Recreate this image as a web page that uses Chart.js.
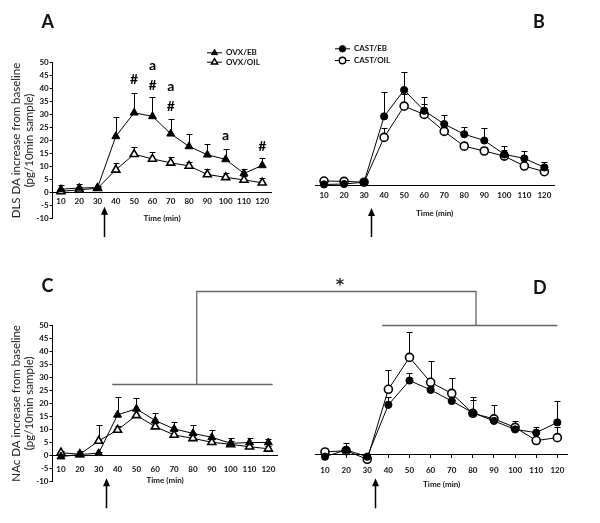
<!DOCTYPE html>
<html><head><meta charset="utf-8">
<script src="https://cdn.jsdelivr.net/npm/chart.js@4/dist/chart.umd.min.js"></script>
<style>
html,body{margin:0;padding:0;background:#fff;}
#wrap{position:relative;width:600px;height:523px;overflow:hidden;background:#fff;}
#wrap canvas{position:absolute;left:0;top:0;}
</style></head><body>
<div id="wrap">
<canvas id="cA" width="600" height="523" style="width:600px;height:523px"></canvas>
<canvas id="cB" width="600" height="523" style="width:600px;height:523px"></canvas>
<canvas id="cC" width="600" height="523" style="width:600px;height:523px"></canvas>
<canvas id="cD" width="600" height="523" style="width:600px;height:523px"></canvas>
</div>
<script>
// ---------- data ----------
const timeMin = [10,20,30,40,50,60,70,80,90,100,110,120];
const xTickValues = [10,20,30,40,50,60,70,80,90,100,110,120];
const yTickValues = [-10,-5,0,5,10,15,20,25,30,35,40,45,50];

// A: DLS, OVX
const dlsOvxEB     = [1.2,1.7,1.8,21.6,30.7,29.3,22.6,17.7,14.5,12.7,7.3,10.4];
const dlsOvxEBErr  = [1.8,1.6,0.5,7.3,7.7,7.5,5.8,4.8,4.1,4.1,1.8,3.0];
const dlsOvxOIL    = [0.4,1.0,1.6,8.7,14.7,12.9,11.4,10.2,6.9,5.8,4.8,3.7];
const dlsOvxOILErr = [0.6,1.0,0.4,2.7,2.8,2.7,2.4,1.6,2.0,1.8,1.4,2.0];
// B: DLS, CAST
const dlsCastEB     = [0.2,0.35,1.0,24.2,33.5,26.2,21.5,17.9,15.7,10.8,9.4,6.2];
const dlsCastEBErr  = [0.3,0.3,0.3,8.7,6.5,4.7,3.2,2.5,4.3,3.1,2.7,2.0];
const dlsCastOIL    = [1.4,1.3,1.0,16.8,27.8,24.9,18.9,13.7,12.0,10.2,6.7,4.7];
const dlsCastOILErr = [0.7,0.6,0.2,3.2,4.4,3.7,1.6,1.6,1.3,2.1,0.9,1.2];
// C: NAc, OVX
const nacOvxEB     = [-0.4,0.4,0.9,15.6,17.9,13.4,10.2,8.5,7.0,4.7,5.0,5.0];
const nacOvxEBErr  = [0.3,0.5,0.3,7.0,4.3,2.8,2.8,3.1,2.8,2.2,1.8,1.5];
const nacOvxOIL    = [1.1,0.5,5.6,9.8,15.4,11.1,7.9,6.6,5.1,4.3,3.4,2.6];
const nacOvxOILErr = [0.5,1.3,6.3,1.6,2.1,1.4,1.6,1.4,1.2,1.2,1.1,1.1];
// D: NAc, CAST
const nacCastEB     = [-0.8,1.5,-0.8,16.9,25.2,22.0,18.2,14.2,11.4,8.5,7.4,10.9];
const nacCastEBErr  = [0.3,2.3,0.3,2.8,2.5,1.5,1.5,4.4,1.5,1.2,1.8,7.4];
const nacCastOIL    = [0.8,1.25,-1.7,22.2,33.1,24.6,20.8,14.0,12.1,9.2,4.7,5.7];
const nacCastOILErr = [0.4,0.5,1.5,6.6,8.8,7.1,5.2,5.7,4.8,2.3,0.8,3.5];

// significance marks in panel A
const annotX    = [50,60,60,70,70,100,120];
const annotY    = [41.6,47.2,39.6,39.0,31.3,20.2,15.9];
const annotText = ['#','a','#','a','#','a','#'];

const injectionTime = 33.7;
const legendA = ['OVX/EB','OVX/OIL'];
const legendB = ['CAST/EB','CAST/OIL'];

// ---------- helpers ----------
const FONT = 'Lato, "Open Sans", sans-serif';
function series(label, vals, errs, style, filled, r) {
  return {
    label, err: errs,
    data: timeMin.map((t,i)=>({x:t, y:vals[i]})),
    borderColor:'#000', borderWidth:1, tension:0, fill:false, clip:false,
    pointStyle: style, pointRadius: r, pointHoverRadius: r,
    pointBackgroundColor: filled ? '#000' : '#fff',
    pointBorderColor:'#000', pointBorderWidth: filled ? 1 : 1.6
  };
}
function marker(ctx, style, filled, x, y, r) {
  ctx.save();
  ctx.fillStyle = filled ? '#000' : '#fff';
  ctx.strokeStyle = '#000'; ctx.lineWidth = filled ? 1 : 1.4;
  ctx.beginPath();
  if (style === 'triangle') {
    for (let k=0;k<3;k++){const a=k*2*Math.PI/3; const px=x+Math.sin(a)*r, py=y-Math.cos(a)*r; k?ctx.lineTo(px,py):ctx.moveTo(px,py);}
    ctx.closePath();
  } else { ctx.arc(x,y,r,0,Math.PI*2); }
  ctx.fill(); ctx.stroke(); ctx.restore();
}

const errorBarPlugin = {
  id:'errorBars',
  beforeDatasetsDraw(chart){
    const ctx = chart.ctx, ys = chart.scales.y;
    chart.data.datasets.forEach((ds,i)=>{
      if (!ds.err) return;
      const meta = chart.getDatasetMeta(i);
      ctx.save(); ctx.strokeStyle='#000'; ctx.lineWidth=1;
      meta.data.forEach((pt,j)=>{
        const top = ys.getPixelForValue(ds.data[j].y + ds.err[j]);
        const x = Math.round(pt.x)+0.5, t = Math.round(top)+0.5;
        ctx.beginPath(); ctx.moveTo(x, pt.y); ctx.lineTo(x, t);
        ctx.moveTo(x-3, t); ctx.lineTo(x+3, t); ctx.stroke();
      });
      ctx.restore();
    });
  }
};

function decoPlugin(p) {
  return {
    id:'deco'+p.letter,
    afterDraw(chart){
      const ctx = chart.ctx, xs = chart.scales.x, ys = chart.scales.y;
      ctx.save();
      // panel letter
      ctx.fillStyle='#111'; ctx.font='bold 18px '+FONT; ctx.textAlign='left'; ctx.textBaseline='alphabetic';
      ctx.fillText(p.letter, p.letterX, p.letterY);
      // injection arrow
      const ax = Math.round(xs.getPixelForValue(injectionTime))+0.5;
      const y0 = ys.getPixelForValue(0);
      const tip = y0 + p.arrow[0], tail = y0 + p.arrow[1];
      ctx.strokeStyle='#000'; ctx.lineWidth=1.5;
      ctx.beginPath(); ctx.moveTo(ax, tail); ctx.lineTo(ax, tip+6); ctx.stroke();
      ctx.fillStyle='#000'; ctx.beginPath(); ctx.moveTo(ax, tip); ctx.lineTo(ax-3.5, tip+8); ctx.lineTo(ax+3.5, tip+8); ctx.closePath(); ctx.fill();
      // legend
      if (p.legend) {
        p.legend.forEach((txt,k)=>{
          const ds = chart.data.datasets[k];
          const lx = p.legendX, ly = p.legendY + k*p.legendDy;
          ctx.strokeStyle='#000'; ctx.lineWidth=1;
          ctx.beginPath(); ctx.moveTo(lx, ly+0.5); ctx.lineTo(lx+15, ly+0.5); ctx.stroke();
          marker(ctx, ds.pointStyle, ds.pointBackgroundColor==='#000', lx+7.5, ly+0.5, p.legendR);
          ctx.fillStyle='#111'; ctx.font='bold 8px '+FONT; ctx.textAlign='left'; ctx.textBaseline='middle';
          ctx.fillText(txt, lx+19, ly+0.5);
        });
      }
      // significance annotations
      if (p.annot) {
        ctx.fillStyle='#000'; ctx.font='bold 14px '+FONT; ctx.textAlign='center'; ctx.textBaseline='alphabetic';
        annotX.forEach((v,i)=> ctx.fillText(annotText[i], xs.getPixelForValue(v), ys.getPixelForValue(annotY[i])));
      }
      if (p.extra) p.extra(chart);
      ctx.restore();
    }
  };
}

function panel(id, p) {
  const H = p.titleOff + 4.8;
  const showY = !!p.yTitle;
  const tickFont = {family:FONT, weight:'bold', size:8, lineHeight:1.2};
  return new Chart(document.getElementById(id), {
    type:'line',
    data:{datasets:p.datasets},
    options:{
      responsive:false, animation:false, devicePixelRatio:1, events:[],
      layout:{padding:{top:p.top, left: showY?0:p.left, right:600-p.right, bottom:523-p.bottom}},
      plugins:{legend:{display:false}, tooltip:{enabled:false}},
      scales:{
        x:{type:'linear', min:5.5, max:125, position:{y:0},
           afterBuildTicks:s=>{s.ticks = xTickValues.map(v=>({value:v}));},
           afterFit:s=>{s.height = H;},
           grid:{display:true, drawOnChartArea:false, drawTicks:p.xTickMarks, tickLength:3, color:'#000', lineWidth:1},
           border:{display:true, color:'#000', width:1},
           ticks:{padding:p.tickPad, color:'#111', font:tickFont, maxRotation:0, autoSkip:false},
           title:{display:true, text:'Time (min)', color:'#111', font:{family:FONT, weight:'bold', size:8, lineHeight:1.2}, padding:{top:0,bottom:0}}},
        y:{type:'linear', min:-10, max:50, display:showY,
           afterBuildTicks:s=>{s.ticks = yTickValues.map(v=>({value:v}));},
           afterFit:s=>{ if (showY) s.width = p.left; },
           grid:{display:true, drawOnChartArea:false, drawTicks:true, tickLength:3, color:'#000'},
           border:{display:true, color:'#000', width:1},
           ticks:{padding:1, color:'#111', font:tickFont},
           title:{display:showY, text:p.yTitle||'', color:'#222', font:{family:FONT, size:11.5, lineHeight:1.17}, padding:{top:9.25,bottom:0}}}
      }
    },
    plugins:[errorBarPlugin, decoPlugin(p)]
  });
}

const chartA = panel('cA', {
  letter:'A', letterX:41.5, letterY:28,
  left:52.7, right:271.4, top:62.7, bottom:218.3, titleOff:26, tickPad:4.5, xTickMarks:false,
  yTitle:['DLS DA increase from baseline','(pg/10min sample)'],
  arrow:[14.4,44.7], annot:true,
  legend:legendA, legendX:207, legendY:52.3, legendDy:9.4, legendR:3.6,
  datasets:[ series(legendA[0], dlsOvxEB, dlsOvxEBErr, 'triangle', true, 4.6),
             series(legendA[1], dlsOvxOIL, dlsOvxOILErr, 'triangle', false, 4.6) ]
});
const chartB = panel('cB', {
  letter:'B', letterX:533, letterY:28,
  left:315, right:554.4, top:43.2, bottom:213.4, titleOff:28.3, tickPad:5.2, xTickMarks:false,
  arrow:[23,52],
  legend:legendB, legendX:335, legendY:48.3, legendDy:11.7, legendR:3.2,
  datasets:[ series(legendB[0], dlsCastEB, dlsCastEBErr, 'circle', true, 3.6),
             series(legendB[1], dlsCastOIL, dlsCastOILErr, 'circle', false, 4) ]
});
const chartC = panel('cC', {
  letter:'C', letterX:41.5, letterY:292,
  left:52.5, right:277.8, top:325, bottom:481.7, titleOff:25.3, tickPad:8.8, xTickMarks:false,
  yTitle:['NAc DA increase from baseline','(pg/10min sample)'],
  arrow:[22.6,52.6],
  datasets:[ series(legendA[0], nacOvxEB, nacOvxEBErr, 'triangle', true, 4.6),
             series(legendA[1], nacOvxOIL, nacOvxOILErr, 'triangle', false, 4.6) ]
});
// bracket linking C and D (levels in each panel's own units)
const bracketC = {y:27.4, x0:37.2, x1:122.3, mid:82};
const bracketD = {y:44.2, x0:37.1, x1:120, mid:81.5, top:55.9};
const chartD = panel('cD', {
  letter:'D', letterX:533, letterY:294,
  left:315.5, right:567.9, top:307.9, bottom:483.6, titleOff:29.7, tickPad:7.9, xTickMarks:true,
  arrow:[24,54],
  datasets:[ series(legendB[0], nacCastEB, nacCastEBErr, 'circle', true, 3.6),
             series(legendB[1], nacCastOIL, nacCastOILErr, 'circle', false, 4) ],
  extra(chart){
    const ctx = chart.ctx, dx = chart.scales.x, dy = chart.scales.y;
    const cx = chartC.scales.x, cy = chartC.scales.y;
    const cY = Math.round(cy.getPixelForValue(bracketC.y))+0.5;
    const dY = Math.round(dy.getPixelForValue(bracketD.y))+0.5;
    const topY = Math.round(dy.getPixelForValue(bracketD.top))+0.5;
    const cMid = cx.getPixelForValue(bracketC.mid), dMid = dx.getPixelForValue(bracketD.mid);
    ctx.strokeStyle='#666'; ctx.lineWidth=1.3;
    ctx.beginPath();
    ctx.moveTo(cx.getPixelForValue(bracketC.x0), cY); ctx.lineTo(cx.getPixelForValue(bracketC.x1), cY);
    ctx.moveTo(cMid, cY); ctx.lineTo(cMid, topY); ctx.lineTo(dMid, topY); ctx.lineTo(dMid, dY);
    ctx.moveTo(dx.getPixelForValue(bracketD.x0), dY); ctx.lineTo(dx.getPixelForValue(bracketD.x1), dY);
    ctx.stroke();
    ctx.fillStyle='#222'; ctx.font='bold 16px "DejaVu Sans", sans-serif'; ctx.textAlign='center'; ctx.textBaseline='alphabetic';
    ctx.fillText('*', dx.getPixelForValue(17.1), topY - 2);
  }
});
</script>
</body></html>
